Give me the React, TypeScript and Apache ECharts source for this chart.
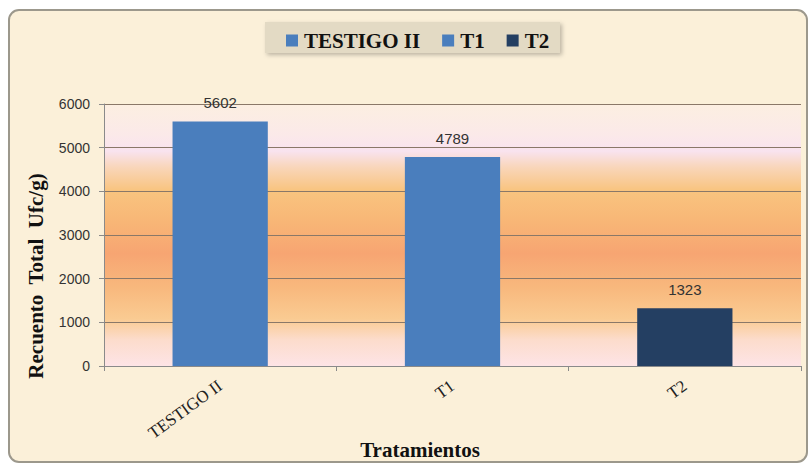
import React, { useEffect, useRef } from "react";
import * as echarts from "echarts";

const categories = ["TESTIGO II", "T1", "T2"];
const seriesNames = ["TESTIGO II", "T1", "T2"];
const seriesValues = [5602, 4789, 1323];
const seriesColors = ["#4a7ebd", "#4a7ebd", "#243f62"];
const yTicks = { min: 0, max: 6000, interval: 1000 };

export default function App() {
  const ref = useRef<HTMLDivElement>(null);
  useEffect(() => {
    document.body.style.margin = "0";
    const chart = echarts.init(ref.current!, null, { renderer: "svg" });
    const series = seriesNames.map((name, i) => ({
      name,
      type: "bar",
      stack: "all",
      barWidth: "41%",
      data: categories.map((_, j) => (j === i ? seriesValues[i] : "-")),
      itemStyle: { color: seriesColors[i] },
      label: {
        show: true,
        position: "top",
        distance: 11,
        fontFamily: "Liberation Sans, Arial, sans-serif",
        fontSize: 15,
        color: "#333",
      },
    }));
    chart.setOption({
      animation: false,
      backgroundColor: "#ffffff",
      graphic: [
        {
          type: "rect",
          z: -10,
          shape: { x: 9, y: 10, width: 798, height: 452, r: 10 },
          style: { fill: "#fbf0d9", stroke: "#9c988c", lineWidth: 2 },
          silent: true,
        },
        {
          type: "rect",
          z: -5,
          shape: { x: 265, y: 22, width: 295, height: 31 },
          style: {
            fill: "#e3dac4",
            shadowColor: "rgba(0,0,0,0.25)",
            shadowBlur: 4,
            shadowOffsetX: 2,
            shadowOffsetY: 2,
          },
          silent: true,
        },
        {
          type: "text",
          x: 36,
          y: 276,
          rotation: Math.PI / 2,
          style: {
            text: "Recuento  Total  Ufc/g)",
            fontFamily: "Liberation Serif, Times New Roman, serif",
            fontWeight: "bold",
            fontSize: 21,
            fill: "#111",
            align: "center",
            verticalAlign: "middle",
          },
        },
        {
          type: "text",
          x: 420,
          y: 450,
          style: {
            text: "Tratamientos",
            fontFamily: "Liberation Serif, Times New Roman, serif",
            fontWeight: "bold",
            fontSize: 21,
            fill: "#111",
            align: "center",
            verticalAlign: "middle",
          },
        },
      ],
      legend: {
        left: 281,
        top: 25,
        itemWidth: 12,
        itemHeight: 12,
        itemGap: 22,
        icon: "rect",
        data: seriesNames.map((n, i) => ({ name: n, itemStyle: { color: seriesColors[i] } })),
        textStyle: {
          fontFamily: "Liberation Serif, Times New Roman, serif",
          fontWeight: "bold",
          fontSize: 21,
          color: "#111",
          padding: [0, 0, 0, 1],
        },
      },
      grid: {
        left: 104,
        right: 10,
        top: 104,
        bottom: 104,
        show: true,
        borderWidth: 0,
        backgroundColor: new echarts.graphic.LinearGradient(0, 0, 0, 1, [
          { offset: 0, color: "#fcefe1" },
          { offset: 0.12, color: "#fbe9e9" },
          { offset: 0.18, color: "#f9e3ef" },
          { offset: 0.24, color: "#f9d6bb" },
          { offset: 0.33, color: "#f9c47f" },
          { offset: 0.45, color: "#f8b676" },
          { offset: 0.57, color: "#f7a572" },
          { offset: 0.7, color: "#f8b87d" },
          { offset: 0.82, color: "#facb92" },
          { offset: 0.9, color: "#fcdccc" },
          { offset: 1, color: "#fde4e6" },
        ]),
      },
      xAxis: {
        type: "category",
        data: categories,
        axisLine: { show: true, lineStyle: { color: "#8a8a8a", width: 1 } },
        axisTick: { show: true, length: 5, lineStyle: { color: "#8a8a8a" } },
        axisLabel: {
          rotate: 36,
          margin: 18,
          fontFamily: "Liberation Serif, Times New Roman, serif",
          fontSize: 17,
          color: "#222",
        },
      },
      yAxis: {
        type: "value",
        min: yTicks.min,
        max: yTicks.max,
        interval: yTicks.interval,
        axisLine: { show: true, lineStyle: { color: "#8a8a8a", width: 1 } },
        axisTick: { show: true, length: 5, lineStyle: { color: "#8a8a8a" } },
        splitLine: { show: true, lineStyle: { color: "#8a7868", width: 1 } },
        axisLabel: {
          margin: 14,
          formatter: (v: number) => String(v),
          fontFamily: "Liberation Sans, Arial, sans-serif",
          fontSize: 14,
          color: "#333",
        },
      },
      series,
    });
    return () => chart.dispose();
  }, []);
  return <div ref={ref} style={{ width: 811, height: 470 }} />;
}
